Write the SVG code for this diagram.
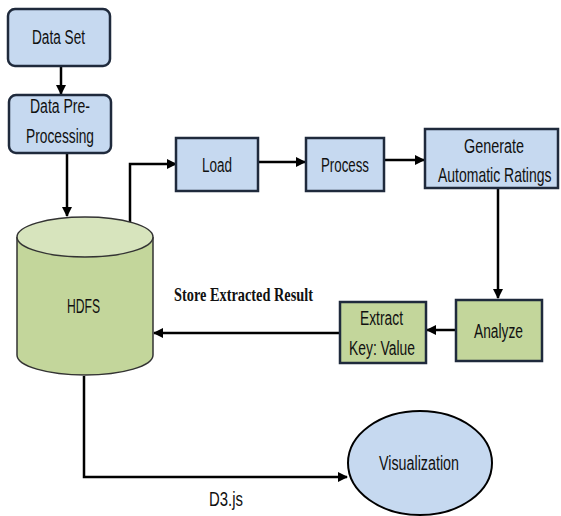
<svg xmlns="http://www.w3.org/2000/svg" width="561" height="516" viewBox="0 0 561 516">
  <defs>
    <marker id="arrow" viewBox="0 0 10 10" refX="9" refY="5" markerWidth="4" markerHeight="4" orient="auto" markerUnits="strokeWidth">
      <path d="M0,0 L10,5 L0,10 z" fill="#000"/>
    </marker>
    <style>
      .box-blue { fill: #c6d9f0; stroke: #1f2a3c; stroke-width: 2.5; }
      .box-green { fill: #c3d69b; stroke: #1f2a3c; stroke-width: 2.5; }
      .lbl { font-family: "Liberation Sans", Arial, sans-serif; font-size: 20px; fill: #111; }
      .serif { font-family: "Liberation Serif", "Times New Roman", serif; font-size: 19px; font-weight: bold; fill: #111; }
      .conn { fill: none; stroke: #000; stroke-width: 2.5; marker-end: url(#arrow); }
    </style>
  </defs>

  <rect width="561" height="516" fill="#fff"/>

  <!-- connectors and their labels -->
  <g id="connectors">
    <line class="conn" x1="61" y1="66" x2="61" y2="94"/>
    <line class="conn" x1="67" y1="153" x2="67" y2="216"/>
    <polyline class="conn" points="130,222 130,164 176,164"/>
    <line class="conn" x1="258" y1="162" x2="305" y2="162"/>
    <line class="conn" x1="384" y1="160" x2="424" y2="160"/>
    <line class="conn" x1="498" y1="188" x2="498" y2="298"/>
    <line class="conn" x1="456" y1="330" x2="427" y2="330"/>
    <line class="conn" x1="340" y1="333" x2="154" y2="333"/>
    <polyline class="conn" points="84,376 84,477 347,477"/>
    <text class="serif" x="174" y="301" textLength="139" lengthAdjust="spacingAndGlyphs">Store Extracted Result</text>
    <text class="lbl" x="209" y="506" textLength="34" lengthAdjust="spacingAndGlyphs">D3.js</text>
  </g>

  <g id="data-set">
    <rect class="box-blue" x="8" y="9" width="102" height="57" rx="7"/>
    <text class="lbl" x="32" y="44" textLength="53" lengthAdjust="spacingAndGlyphs">Data Set</text>
  </g>

  <g id="pre-processing">
    <rect class="box-blue" x="9" y="95" width="102" height="58" rx="7"/>
    <text class="lbl" x="30" y="113" textLength="60" lengthAdjust="spacingAndGlyphs">Data Pre-</text>
    <text class="lbl" x="26" y="143" textLength="68" lengthAdjust="spacingAndGlyphs">Processing</text>
  </g>

  <g id="hdfs">
    <path d="M17,237 L17,355 A68,20 0 0 0 153,355 L153,237" fill="#c3d69b" stroke="#333" stroke-width="1.5"/>
    <ellipse cx="85" cy="237" rx="68" ry="20" fill="#d7e4bd" stroke="#333" stroke-width="1.5"/>
    <text class="lbl" x="67" y="313" textLength="33" lengthAdjust="spacingAndGlyphs">HDFS</text>
  </g>

  <g id="load">
    <rect class="box-blue" x="176" y="138" width="82" height="53"/>
    <text class="lbl" x="202" y="172" textLength="30" lengthAdjust="spacingAndGlyphs">Load</text>
  </g>

  <g id="process">
    <rect class="box-blue" x="306" y="138" width="78" height="53"/>
    <text class="lbl" x="321" y="172" textLength="48" lengthAdjust="spacingAndGlyphs">Process</text>
  </g>

  <g id="generate">
    <rect class="box-blue" x="425" y="129" width="133" height="59"/>
    <text class="lbl" x="464" y="153" textLength="60" lengthAdjust="spacingAndGlyphs">Generate</text>
    <!-- narrowed with a horizontal scale so the line fits inside the box -->
    <text class="lbl" transform="translate(438,182) scale(0.70,1)" x="0" y="0">Automatic Ratings</text>
  </g>

  <g id="analyze">
    <rect class="box-green" x="456" y="300" width="86" height="61"/>
    <text class="lbl" x="474" y="338" textLength="49" lengthAdjust="spacingAndGlyphs">Analyze</text>
  </g>

  <g id="extract">
    <rect class="box-green" x="340" y="302" width="86" height="61"/>
    <text class="lbl" x="360" y="325" textLength="43" lengthAdjust="spacingAndGlyphs">Extract</text>
    <text class="lbl" x="349" y="355" textLength="66" lengthAdjust="spacingAndGlyphs">Key: Value</text>
  </g>

  <g id="visualization">
    <ellipse cx="420" cy="463" rx="72" ry="52" fill="#c6d9f0" stroke="#000" stroke-width="2"/>
    <text class="lbl" x="379" y="470" textLength="80" lengthAdjust="spacingAndGlyphs">Visualization</text>
  </g>
</svg>
